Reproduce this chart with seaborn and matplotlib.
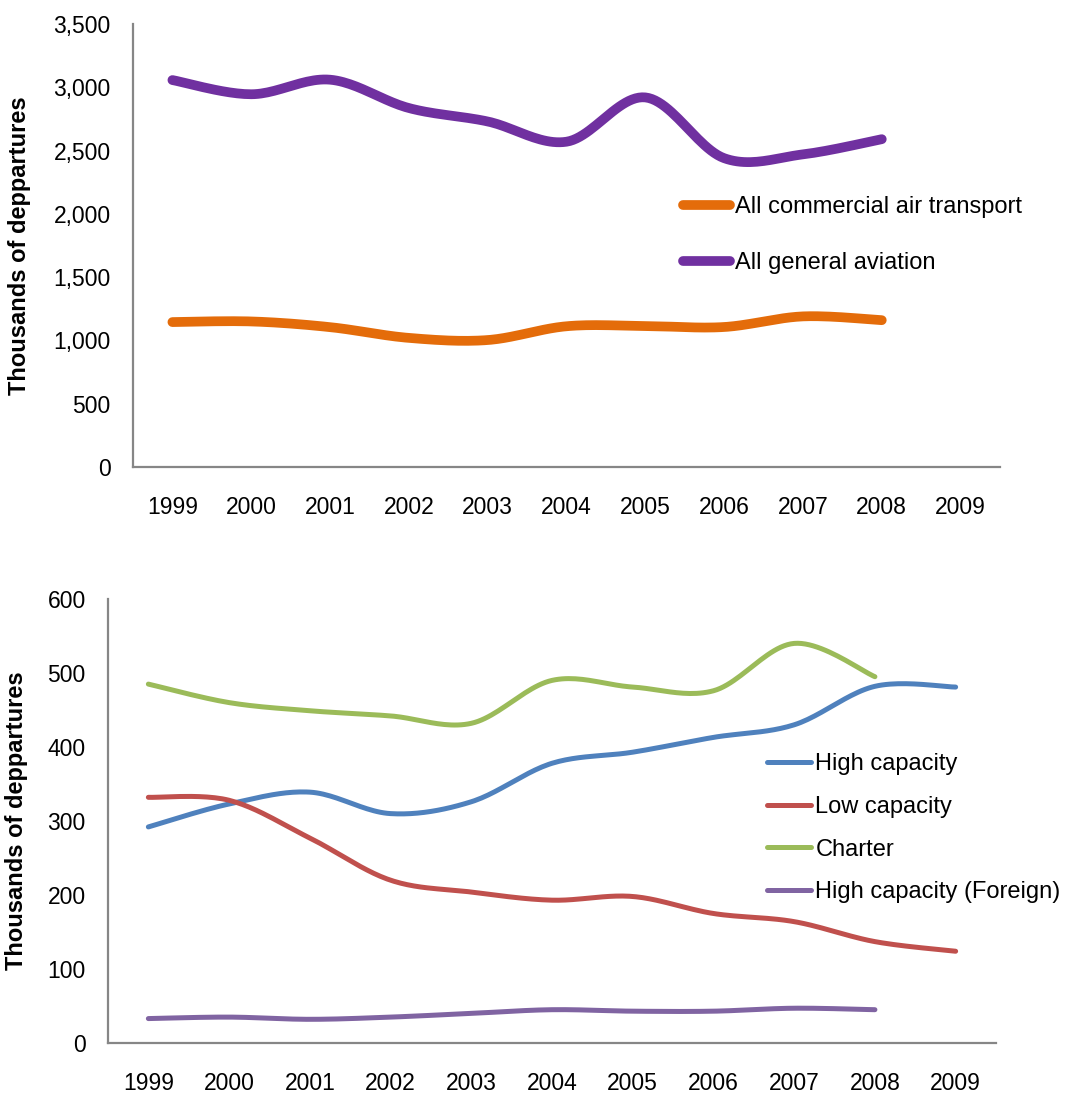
import numpy as np
import pandas as pd
import seaborn as sns
import matplotlib
matplotlib.use("Agg")
import matplotlib.pyplot as plt
from matplotlib.ticker import FuncFormatter

years = ["1999", "2000", "2001", "2002", "2003", "2004", "2005", "2006", "2007", "2008", "2009"]

# top chart (thousands of departures)
commercial = [1145, 1150, 1105, 1020, 1003, 1112, 1114, 1106, 1190, 1160]
general = [3057, 2945, 3060, 2836, 2730, 2570, 2920, 2440, 2470, 2590]

# bottom chart
high_cap = [292, 323, 339, 310, 326, 378, 393, 413, 430, 482, 481]
low_cap = [332, 328, 277, 220, 204, 193, 198, 175, 164, 137, 124]
charter = [485, 460, 449, 442, 432, 490, 481, 476, 540, 495]
high_cap_foreign = [33, 35, 32, 35, 40, 45, 43, 43, 47, 45]

GREY = "#868686"


def smooth(vals, n=24):
    # Excel-style smoothed line (Catmull-Rom bezier through the points)
    p = np.column_stack([np.arange(len(vals)), np.asarray(vals, float)])
    xs, ys = [], []
    for i in range(len(p) - 1):
        p0 = p[i - 1] if i > 0 else p[i]
        p1, p2 = p[i], p[i + 1]
        p3 = p[i + 2] if i + 2 < len(p) else p[i + 1]
        c1 = p1 + (p2 - p0) / 6
        c2 = p2 - (p3 - p1) / 6
        t = np.linspace(0, 1, n, endpoint=(i == len(p) - 2))[:, None]
        b = (1 - t) ** 3 * p1 + 3 * (1 - t) ** 2 * t * c1 + 3 * (1 - t) * t ** 2 * c2 + t ** 3 * p2
        xs.append(b[:, 0])
        ys.append(b[:, 1])
    return np.concatenate(xs), np.concatenate(ys)


def style_axes(ax, ymax, ystep, fmt):
    ax.set_xlim(-0.5, len(years) - 0.5)
    ax.set_ylim(0, ymax)
    ax.set_xticks(range(len(years)))
    ax.set_xticklabels(years)
    ax.set_xticks(np.arange(-0.5, len(years)), minor=True)
    ax.tick_params(axis="x", which="major", length=0, pad=21, labelsize=16.5, labelcolor="black")
    ax.tick_params(axis="x", which="minor", length=5, width=1.3, color=GREY, direction="out")
    ax.set_yticks(np.arange(0, ymax + 1, ystep))
    ax.yaxis.set_major_formatter(FuncFormatter(fmt))
    ax.tick_params(axis="y", length=5, width=1.3, color=GREY, pad=11, labelsize=16.5, labelcolor="black")
    for s in ["top", "right"]:
        ax.spines[s].set_visible(False)
    for s in ["left", "bottom"]:
        ax.spines[s].set_color(GREY)
        ax.spines[s].set_linewidth(1.6)
    ax.set_xlabel("")
    ax.set_ylabel("Thousands of deppartures", fontsize=17, fontweight="bold", color="black")


sns.set_style("white")
plt.rcParams["font.family"] = ["Liberation Sans", "DejaVu Sans"]
plt.rcParams["text.color"] = "black"

fig = plt.figure(figsize=(10.83, 10.95), dpi=100)
W, H = 1083, 1095
ax1 = fig.add_axes([133 / W, 1 - 467 / H, (1000 - 133) / W, (467 - 24) / H])
ax2 = fig.add_axes([108 / W, 1 - 1043 / H, (996 - 108) / W, (1043 - 599) / H])

top_series = [("All commercial air transport", commercial, "#E46C0A"),
              ("All general aviation", general, "#7030A0")]
for name, vals, col in top_series:
    sx, sy = smooth(vals)
    sns.lineplot(x=sx, y=sy, ax=ax1, color=col, linewidth=7, label=name,
                 solid_capstyle="round", sort=False)

bottom_series = [("High capacity", high_cap, "#4F81BD"),
                 ("Low capacity", low_cap, "#C0504D"),
                 ("Charter", charter, "#9BBB59"),
                 ("High capacity (Foreign)", high_cap_foreign, "#8064A2")]
for name, vals, col in bottom_series:
    sx, sy = smooth(vals)
    sns.lineplot(x=sx, y=sy, ax=ax2, color=col, linewidth=3.6, label=name,
                 solid_capstyle="round", sort=False)

style_axes(ax1, 3500, 500, lambda v, p: f"{int(v):,}")
style_axes(ax2, 600, 100, lambda v, p: f"{int(v)}")
ax1.yaxis.set_label_coords(-0.118, 0.5)
ax2.yaxis.set_label_coords(-0.090, 0.5)

leg1 = ax1.legend(loc="upper left", bbox_to_anchor=(683 / W, 1 - 196 / H), bbox_transform=fig.transFigure,
                  frameon=False, fontsize=17, handlelength=2.0, handletextpad=0.2,
                  labelspacing=1.45, borderpad=0, borderaxespad=0, labelcolor="black")
leg2 = ax2.legend(loc="upper left", bbox_to_anchor=(767 / W, 1 - 753 / H), bbox_transform=fig.transFigure,
                  frameon=False, fontsize=17, handlelength=1.85, handletextpad=0.2,
                  labelspacing=0.88, borderpad=0, borderaxespad=0, labelcolor="black")
for h in leg1.get_lines():
    h.set_solid_capstyle("round")
for h in leg2.get_lines():
    h.set_solid_capstyle("round")

fig.savefig("out.png", dpi=100)
